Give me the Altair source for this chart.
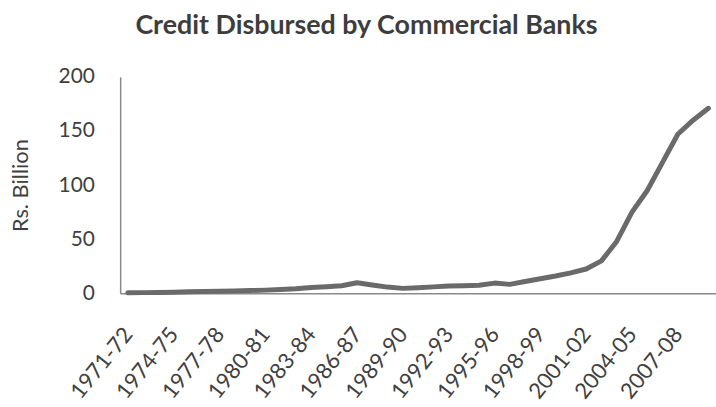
import altair as alt
import pandas as pd

years = ["1971-72", "1972-73", "1973-74", "1974-75", "1975-76", "1976-77", "1977-78",
         "1978-79", "1979-80", "1980-81", "1981-82", "1982-83", "1983-84", "1984-85",
         "1985-86", "1986-87", "1987-88", "1988-89", "1989-90", "1990-91", "1991-92",
         "1992-93", "1993-94", "1994-95", "1995-96", "1996-97", "1997-98", "1998-99",
         "1999-00", "2000-01", "2001-02", "2002-03", "2003-04", "2004-05", "2005-06",
         "2006-07", "2007-08", "2008-09", "2009-10"]
credit = [0.5, 0.7, 0.9, 1.1, 1.4, 1.7, 2.0, 2.3, 2.6, 3.0, 3.6, 4.3, 5.5, 6.2, 7.0,
          9.8, 7.8, 5.8, 4.6, 5.2, 6.0, 6.8, 7.0, 7.5, 9.5, 8.3, 11.0, 13.5, 16.0,
          19.0, 22.5, 30.0, 48.0, 75.0, 95.0, 121.0, 147.0, 160.0, 171.0]
label_years = years[::3]
y_ticks = [0, 50, 100, 150, 200]

df = pd.DataFrame({"year": years, "credit": credit})

FONT = "Lato"
TXT = "#404040"

chart = alt.Chart(df).mark_line(
    color="#6a6a6a", strokeWidth=5, strokeJoin="round", strokeCap="round"
).encode(
    x=alt.X("year:N", sort=years, title=None,
            scale=alt.Scale(type="point", padding=0.5),
            axis=alt.Axis(values=label_years, labelAngle=-51, labelAlign="right",
                          labelBaseline="middle", labelPadding=37, ticks=False,
                          labelFontSize=22, labelFont=FONT, labelColor=TXT,
                          domainColor="#8a8a8a", domainWidth=1.5, grid=False,
                          labelOverlap=False)),
    y=alt.Y("credit:Q", title="Rs. Billion",
            scale=alt.Scale(domain=[0, 200], nice=False),
            axis=alt.Axis(values=y_ticks, ticks=False, grid=False, labelPadding=26,
                          labelFontSize=21, labelFont=FONT, labelColor=TXT,
                          titleFont=FONT, titleFontSize=22, titleFontWeight="normal",
                          titleColor=TXT, titlePadding=26,
                          domainColor="#8a8a8a", domainWidth=1.5)),
).properties(
    width=600, height=218,
    title=alt.Title("Credit Disbursed by Commercial Banks", font=FONT, fontSize=27,
                    fontWeight="bold", color="#3d3d3d", anchor="middle", frame="group",
                    dx=-52, offset=26),
    autosize=alt.AutoSizeParams(type="none"),
    padding={"left": 121, "top": 76, "right": 0, "bottom": 113},
    background="white",
).configure_view(stroke=None)

chart.save("out.html", embed_options={"renderer": "svg", "actions": False})
